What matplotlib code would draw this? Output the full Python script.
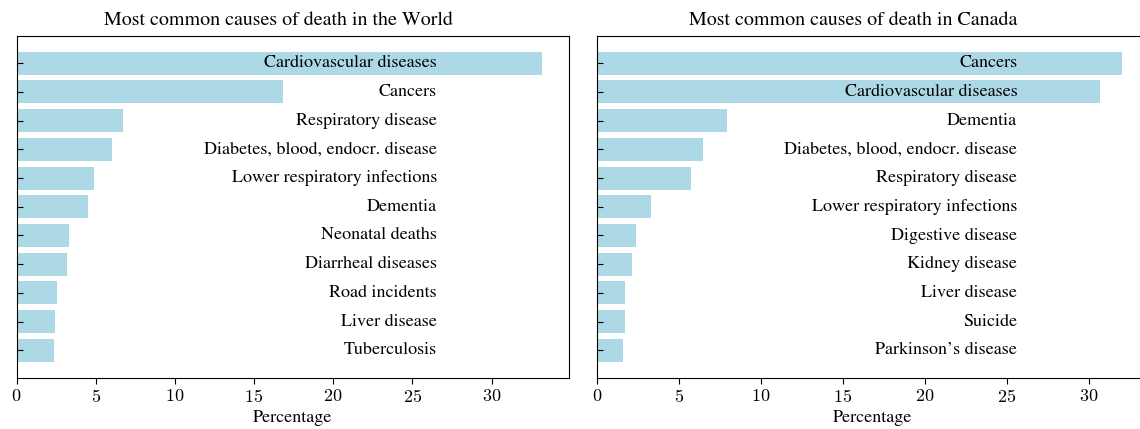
import matplotlib
matplotlib.use("Agg")
import matplotlib.pyplot as plt
import numpy as np

plt.rcParams["font.family"] = ["STIXGeneral", "DejaVu Serif"]
plt.rcParams["mathtext.fontset"] = "cm"

world_causes = [
    "Cardiovascular diseases", "Cancers", "Respiratory disease",
    "Diabetes, blood, endocr. disease", "Lower respiratory infections",
    "Dementia", "Neonatal deaths", "Diarrheal diseases", "Road incidents",
    "Liver disease", "Tuberculosis",
]
world_pct = [33.2, 16.8, 6.72, 6.03, 4.89, 4.51, 3.31, 3.19, 2.56, 2.43, 2.37]

canada_causes = [
    "Cancers", "Cardiovascular diseases", "Dementia",
    "Diabetes, blood, endocr. disease", "Respiratory disease",
    "Lower respiratory infections", "Digestive disease", "Kidney disease",
    "Liver disease", "Suicide", "Parkinson\u2019s disease",
]
canada_pct = [32.03, 30.68, 7.94, 6.49, 5.75, 3.31, 2.40, 2.16, 1.73, 1.73, 1.60]

xtick_values = [0, 5, 10, 15, 20, 25, 30]
xtick_labels = ["$%d$" % v for v in xtick_values]

W, H = 1140, 429
fig = plt.figure(figsize=(W / 100, H / 100), dpi=100)

panels = [
    ("Most common causes of death in the World", world_causes, world_pct, 16.5, 0.474),
    ("Most common causes of death in Canada", canada_causes, canada_pct, 596.7, 0.465),
]

for title, causes, pct, left_px, title_x in panels:
    ax = fig.add_axes([left_px / W, (H - 377.5) / H, 552.0 / W, 341.5 / H])
    pos = np.arange(len(causes))
    ax.barh(pos, pct, height=0.8, color="lightblue")
    ax.invert_yaxis()
    ax.set_yticks(pos)
    ax.set_yticklabels([])
    ax.tick_params(axis="y", direction="in", length=4)
    ax.tick_params(axis="x", direction="out", length=4, labelsize=13, pad=4.5)
    ax.set_xticks(xtick_values)
    ax.set_xticklabels(xtick_labels)
    label_x = 0.8 * max(pct)
    for y, name in zip(pos, causes):
        ax.text(label_x, y, name, ha="right", va="center", fontsize=13)
    ax.set_title(title, fontsize=14.4, x=title_x, pad=8)
    ax.set_xlabel("Percentage", fontsize=13, labelpad=3)

fig.savefig("out.png", dpi=100)
